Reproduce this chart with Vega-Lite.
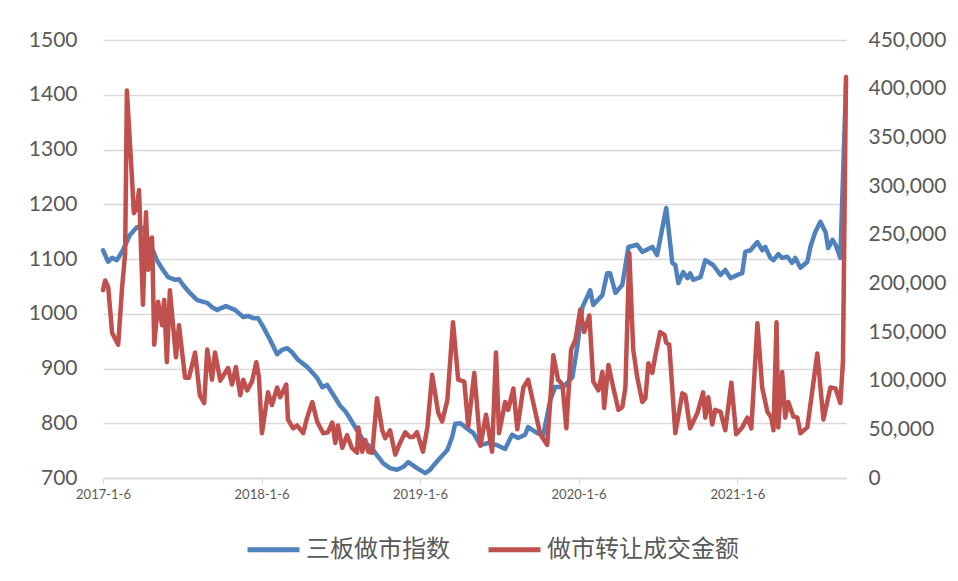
{
  "$schema": "https://vega.github.io/schema/vega-lite/v6.json",
  "width": 743,
  "height": 438,
  "autosize": {"type": "none"},
  "padding": {"left": 103, "top": 40, "right": 112, "bottom": 103},
  "background": "white",
  "config": {
    "view": {"stroke": null},
    "font": "Lato",
    "axis": {"labelColor": "#595959", "labelFont": "Lato"}
  },
  "datasets": {
    "idx": [
      {"d":"2017-01-06","v":1116},{"d":"2017-01-18","v":1095},{"d":"2017-01-27","v":1102},{"d":"2017-02-07","v":1098},{"d":"2017-02-21","v":1116},{"d":"2017-03-09","v":1144},{"d":"2017-03-25","v":1158},{"d":"2017-04-08","v":1157},{"d":"2017-04-24","v":1129},{"d":"2017-05-10","v":1098},{"d":"2017-05-24","v":1080},{"d":"2017-06-05","v":1067},{"d":"2017-06-21","v":1062},{"d":"2017-06-30","v":1063},{"d":"2017-07-09","v":1053},{"d":"2017-07-25","v":1038},{"d":"2017-08-11","v":1025},{"d":"2017-09-03","v":1020},{"d":"2017-09-14","v":1012},{"d":"2017-09-26","v":1007},{"d":"2017-10-16","v":1014},{"d":"2017-11-06","v":1007},{"d":"2017-11-25","v":994},{"d":"2017-12-06","v":996},{"d":"2017-12-18","v":992},{"d":"2017-12-29","v":992},
      {"d":"2018-01-10","v":976},{"d":"2018-01-26","v":952},{"d":"2018-02-11","v":926},{"d":"2018-02-22","v":934},{"d":"2018-03-06","v":937},{"d":"2018-03-17","v":930},{"d":"2018-03-31","v":916},{"d":"2018-04-21","v":903},{"d":"2018-05-14","v":883},{"d":"2018-05-26","v":866},{"d":"2018-06-06","v":870},{"d":"2018-06-25","v":846},{"d":"2018-07-06","v":832},{"d":"2018-07-18","v":822},{"d":"2018-07-27","v":811},{"d":"2018-08-28","v":769},{"d":"2018-09-20","v":751},{"d":"2018-10-13","v":727},{"d":"2018-10-29","v":718},{"d":"2018-11-14","v":715},{"d":"2018-11-28","v":720},{"d":"2018-12-10","v":729},{"d":"2018-12-30","v":718},
      {"d":"2019-01-18","v":709},{"d":"2019-01-29","v":715},{"d":"2019-02-17","v":733},{"d":"2019-03-10","v":751},{"d":"2019-03-21","v":775},{"d":"2019-03-28","v":799},{"d":"2019-04-09","v":800},{"d":"2019-04-20","v":793},{"d":"2019-05-09","v":782},{"d":"2019-05-25","v":760},{"d":"2019-06-12","v":764},{"d":"2019-07-03","v":760},{"d":"2019-07-21","v":753},{"d":"2019-08-06","v":779},{"d":"2019-08-20","v":773},{"d":"2019-09-05","v":779},{"d":"2019-09-12","v":793},{"d":"2019-10-03","v":782},{"d":"2019-10-17","v":779},{"d":"2019-11-02","v":842},{"d":"2019-11-13","v":866},{"d":"2019-12-02","v":866},{"d":"2019-12-23","v":884},
      {"d":"2020-01-03","v":939},{"d":"2020-01-15","v":1012},{"d":"2020-02-02","v":1043},{"d":"2020-02-09","v":1016},{"d":"2020-03-01","v":1034},{"d":"2020-03-12","v":1074},{"d":"2020-03-19","v":1074},{"d":"2020-03-31","v":1038},{"d":"2020-04-16","v":1053},{"d":"2020-04-30","v":1122},{"d":"2020-05-20","v":1126},{"d":"2020-06-01","v":1113},{"d":"2020-06-24","v":1122},{"d":"2020-07-05","v":1107},{"d":"2020-07-26","v":1193},{"d":"2020-08-09","v":1093},{"d":"2020-08-16","v":1089},{"d":"2020-08-23","v":1056},{"d":"2020-09-03","v":1076},{"d":"2020-09-13","v":1065},{"d":"2020-09-19","v":1074},{"d":"2020-09-26","v":1062},{"d":"2020-10-13","v":1067},{"d":"2020-10-24","v":1098},{"d":"2020-11-11","v":1089},{"d":"2020-11-28","v":1071},{"d":"2020-12-09","v":1080},{"d":"2020-12-21","v":1065},
      {"d":"2021-01-06","v":1071},{"d":"2021-01-17","v":1074},{"d":"2021-01-24","v":1113},{"d":"2021-02-05","v":1116},{"d":"2021-02-21","v":1131},{"d":"2021-03-04","v":1116},{"d":"2021-03-11","v":1122},{"d":"2021-03-23","v":1102},{"d":"2021-03-30","v":1098},{"d":"2021-04-10","v":1109},{"d":"2021-04-19","v":1102},{"d":"2021-05-01","v":1104},{"d":"2021-05-12","v":1093},{"d":"2021-05-19","v":1102},{"d":"2021-05-31","v":1084},{"d":"2021-06-16","v":1095},{"d":"2021-06-23","v":1122},{"d":"2021-07-04","v":1149},{"d":"2021-07-16","v":1168},{"d":"2021-07-28","v":1149},{"d":"2021-08-03","v":1120},{"d":"2021-08-13","v":1135},{"d":"2021-08-20","v":1126},{"d":"2021-08-31","v":1102},{"d":"2021-09-13","v":1420}
    ],
    "amt": [
      {"d":"2017-01-06","v":193000},{"d":"2017-01-11","v":203000},{"d":"2017-01-18","v":196000},{"d":"2017-01-27","v":149000},{"d":"2017-02-10","v":137000},{"d":"2017-02-19","v":196000},{"d":"2017-02-26","v":231000},{"d":"2017-03-02","v":398000},{"d":"2017-03-14","v":306000},{"d":"2017-03-18","v":272000},{"d":"2017-03-25","v":278000},{"d":"2017-03-30","v":296000},{"d":"2017-04-08","v":178000},{"d":"2017-04-15","v":273000},{"d":"2017-04-20","v":214000},{"d":"2017-04-29","v":247000},{"d":"2017-05-04","v":137000},{"d":"2017-05-13","v":181000},{"d":"2017-05-22","v":157000},{"d":"2017-05-27","v":183000},{"d":"2017-06-02","v":119000},{"d":"2017-06-09","v":193000},{"d":"2017-06-23","v":124000},{"d":"2017-06-30","v":157000},{"d":"2017-07-14","v":103000},{"d":"2017-07-23","v":103000},{"d":"2017-08-06","v":129000},{"d":"2017-08-17","v":85000},{"d":"2017-08-27","v":77000},{"d":"2017-09-03","v":132000},{"d":"2017-09-14","v":101000},{"d":"2017-09-21","v":129000},{"d":"2017-10-03","v":100000},{"d":"2017-10-21","v":113000},{"d":"2017-10-30","v":96000},{"d":"2017-11-08","v":114000},{"d":"2017-11-18","v":85000},{"d":"2017-11-25","v":101000},{"d":"2017-12-04","v":90000},{"d":"2017-12-15","v":99000},{"d":"2017-12-25","v":119000},{"d":"2017-12-31","v":104000},
      {"d":"2018-01-07","v":46000},{"d":"2018-01-21","v":88000},{"d":"2018-01-30","v":75000},{"d":"2018-02-11","v":93000},{"d":"2018-02-18","v":83000},{"d":"2018-03-04","v":96000},{"d":"2018-03-08","v":60000},{"d":"2018-03-20","v":51000},{"d":"2018-03-29","v":54000},{"d":"2018-04-12","v":46000},{"d":"2018-04-21","v":62000},{"d":"2018-05-03","v":78000},{"d":"2018-05-14","v":58000},{"d":"2018-05-28","v":46000},{"d":"2018-06-08","v":47000},{"d":"2018-06-18","v":57000},{"d":"2018-06-25","v":36000},{"d":"2018-07-01","v":54000},{"d":"2018-07-11","v":31000},{"d":"2018-07-22","v":44000},{"d":"2018-08-02","v":31000},{"d":"2018-08-14","v":26000},{"d":"2018-08-17","v":52000},{"d":"2018-08-26","v":27000},{"d":"2018-09-02","v":39000},{"d":"2018-09-09","v":27000},{"d":"2018-09-18","v":26000},{"d":"2018-09-29","v":82000},{"d":"2018-10-11","v":49000},{"d":"2018-10-18","v":41000},{"d":"2018-10-29","v":49000},{"d":"2018-11-10","v":24000},{"d":"2018-11-21","v":36000},{"d":"2018-12-03","v":47000},{"d":"2018-12-14","v":42000},{"d":"2018-12-21","v":42000},{"d":"2018-12-30","v":47000},
      {"d":"2019-01-13","v":27000},{"d":"2019-01-23","v":52000},{"d":"2019-02-03","v":106000},{"d":"2019-02-17","v":67000},{"d":"2019-02-26","v":58000},{"d":"2019-03-10","v":80000},{"d":"2019-03-23","v":160000},{"d":"2019-04-04","v":101000},{"d":"2019-04-18","v":99000},{"d":"2019-04-27","v":53000},{"d":"2019-05-11","v":108000},{"d":"2019-05-25","v":33000},{"d":"2019-06-07","v":65000},{"d":"2019-06-21","v":27000},{"d":"2019-06-30","v":129000},{"d":"2019-07-07","v":46000},{"d":"2019-07-21","v":78000},{"d":"2019-07-28","v":70000},{"d":"2019-08-09","v":92000},{"d":"2019-08-18","v":50000},{"d":"2019-09-01","v":93000},{"d":"2019-09-12","v":101000},{"d":"2019-10-10","v":45000},{"d":"2019-10-26","v":34000},{"d":"2019-11-09","v":126000},{"d":"2019-11-20","v":101000},{"d":"2019-11-30","v":96000},{"d":"2019-12-09","v":51000},{"d":"2019-12-20","v":132000},{"d":"2019-12-30","v":142000},
      {"d":"2020-01-10","v":173000},{"d":"2020-01-19","v":150000},{"d":"2020-01-31","v":167000},{"d":"2020-02-09","v":99000},{"d":"2020-02-21","v":90000},{"d":"2020-03-01","v":109000},{"d":"2020-03-05","v":72000},{"d":"2020-03-15","v":116000},{"d":"2020-03-26","v":93000},{"d":"2020-04-07","v":70000},{"d":"2020-04-16","v":73000},{"d":"2020-04-23","v":93000},{"d":"2020-05-02","v":231000},{"d":"2020-05-11","v":132000},{"d":"2020-05-20","v":104000},{"d":"2020-06-01","v":78000},{"d":"2020-06-08","v":82000},{"d":"2020-06-15","v":118000},{"d":"2020-06-24","v":108000},{"d":"2020-07-01","v":126000},{"d":"2020-07-12","v":150000},{"d":"2020-07-22","v":147000},{"d":"2020-07-26","v":139000},{"d":"2020-08-02","v":137000},{"d":"2020-08-16","v":46000},{"d":"2020-09-01","v":87000},{"d":"2020-09-08","v":85000},{"d":"2020-09-19","v":51000},{"d":"2020-10-06","v":67000},{"d":"2020-10-19","v":88000},{"d":"2020-10-24","v":62000},{"d":"2020-10-31","v":83000},{"d":"2020-11-09","v":55000},{"d":"2020-11-16","v":70000},{"d":"2020-11-28","v":68000},{"d":"2020-12-09","v":49000},{"d":"2020-12-23","v":98000},
      {"d":"2021-01-03","v":45000},{"d":"2021-01-17","v":52000},{"d":"2021-01-29","v":62000},{"d":"2021-02-07","v":51000},{"d":"2021-02-21","v":159000},{"d":"2021-03-04","v":93000},{"d":"2021-03-16","v":68000},{"d":"2021-03-25","v":62000},{"d":"2021-03-30","v":49000},{"d":"2021-04-06","v":160000},{"d":"2021-04-10","v":52000},{"d":"2021-04-19","v":109000},{"d":"2021-04-26","v":62000},{"d":"2021-05-03","v":78000},{"d":"2021-05-15","v":63000},{"d":"2021-05-24","v":62000},{"d":"2021-05-31","v":46000},{"d":"2021-06-16","v":52000},{"d":"2021-07-09","v":128000},{"d":"2021-07-23","v":60000},{"d":"2021-08-08","v":93000},{"d":"2021-08-20","v":92000},{"d":"2021-08-31","v":77000},{"d":"2021-09-06","v":120000},{"d":"2021-09-13","v":412000}
    ]
  },
  "encoding": {
    "x": {
      "field": "d", "type": "temporal",
      "scale": {"type": "utc", "domain": [{"year":2017,"month":1,"date":6,"utc":true},{"year":2021,"month":9,"date":13,"utc":true}]},
      "axis": {
        "title": null, "grid": false,
        "values": [{"year":2017,"month":1,"date":6,"utc":true},{"year":2018,"month":1,"date":6,"utc":true},{"year":2019,"month":1,"date":6,"utc":true},{"year":2020,"month":1,"date":6,"utc":true},{"year":2021,"month":1,"date":6,"utc":true}],
        "labelExpr": "utcFormat(datum.value, '%Y-%-m-%-d')",
        "labelFlush": false, "labelOverlap": false,
        "labelFontSize": 13, "labelPadding": 4,
        "domainColor": "#D9D9D9", "domainWidth": 1.3,
        "tickColor": "#D9D9D9", "tickSize": 6, "tickWidth": 1.3
      }
    },
    "color": {
      "field": "s", "type": "nominal",
      "scale": {"domain": ["三板做市指数", "做市转让成交金额"], "range": ["#4F81BD", "#C0504D"]},
      "legend": {
        "title": null, "orient": "none", "legendX": 142, "legendY": 481,
        "direction": "horizontal", "symbolType": "stroke", "symbolSize": 2700,
        "symbolStrokeWidth": 5, "labelFontSize": 24, "labelFont": "Noto Sans CJK SC",
        "labelColor": "#595959", "columnPadding": 28, "labelOffset": 4, "labelLimit": 400
      }
    }
  },
  "layer": [
    {
      "data": {"name": "idx"},
      "transform": [{"calculate": "'三板做市指数'", "as": "s"}],
      "mark": {"type": "line", "strokeWidth": 4.5, "strokeCap": "round", "strokeJoin": "round"},
      "encoding": {
        "y": {
          "field": "v", "type": "quantitative",
          "scale": {"domain": [700, 1500], "nice": false, "zero": false},
          "axis": {
            "title": null, "orient": "left", "values": [700,800,900,1000,1100,1200,1300,1400,1500],
            "labelExpr": "format(datum.value, 'd')",
            "domain": false, "ticks": false, "labelFontSize": 21, "labelPadding": 26,
            "grid": true, "gridColor": "#D9D9D9", "gridWidth": 1.3
          }
        }
      }
    },
    {
      "data": {"name": "amt"},
      "transform": [{"calculate": "'做市转让成交金额'", "as": "s"}],
      "mark": {"type": "line", "strokeWidth": 4.5, "strokeCap": "round", "strokeJoin": "round"},
      "encoding": {
        "y": {
          "field": "v", "type": "quantitative",
          "scale": {"domain": [0, 450000], "nice": false},
          "axis": {
            "title": null, "orient": "right", "values": [0,50000,100000,150000,200000,250000,300000,350000,400000,450000],
            "labelExpr": "format(datum.value, ',d')",
            "domain": false, "ticks": false, "grid": false,
            "labelFontSize": 21, "labelPadding": 22
          }
        }
      }
    }
  ],
  "resolve": {"scale": {"y": "independent"}}
}
